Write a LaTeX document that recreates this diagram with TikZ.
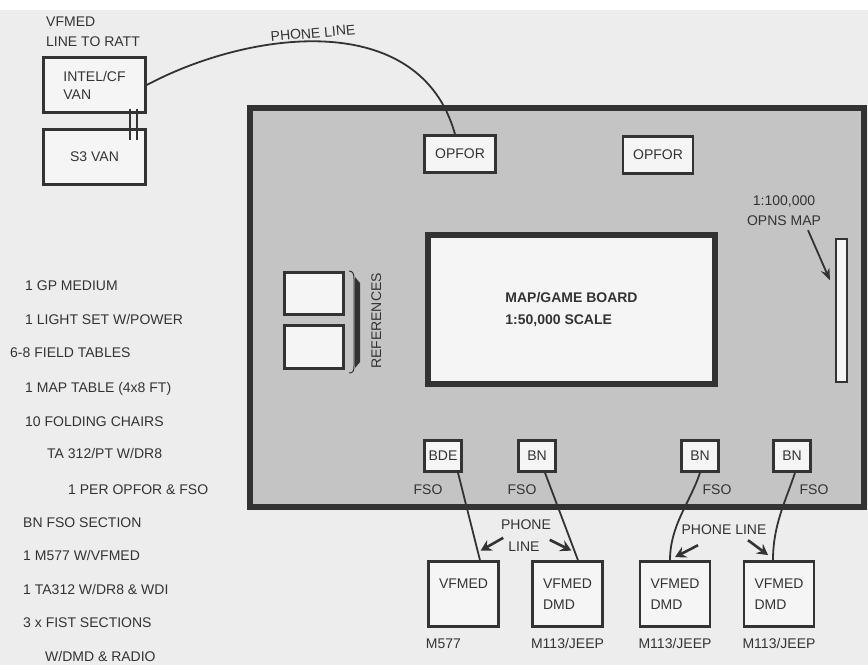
\documentclass[tikz,border=0pt]{standalone}
\usepackage{fontspec}
\setmainfont{Liberation Sans}
\usetikzlibrary{arrows.meta,positioning}
\definecolor{ink}{gray}{0.2}
\definecolor{room}{gray}{0.77}
\definecolor{paper}{gray}{0.96}
\definecolor{page}{gray}{0.93}
\tikzset{
  tag/.style={text=ink, inner sep=0pt, font=\fontsize{14}{18}\selectfont, text height=10pt, text depth=0pt},
  para/.style={text=ink, inner sep=0pt, font=\fontsize{14}{20}\selectfont, align=center},
  unit/.style={draw=ink, line width=2.5pt, fill=paper, text=ink, inner sep=0pt, font=\fontsize{14}{18}\selectfont, align=left},
  wire/.style={draw=ink, line width=1.8pt},
  feather/.style={draw=ink, line width=2.6pt, -{Stealth[length=11pt,width=12pt,inset=4pt]}},
}
\begin{document}
\begin{tikzpicture}[x=1pt,y=-1pt]
\useasboundingbox (0,0) rectangle (868,665);
\fill[page] (0,10) rectangle (868,665);

% vans
\node[para, align=left, anchor=west] (ratt) at (46,32) {VFMED\\LINE TO RATT};
\node[unit, minimum width=102pt, minimum height=55pt] (intel) at (94.5,85) {INTEL/CF\\VAN};
\node[unit, minimum width=102pt, minimum height=55pt] (s3) at (94.5,157) {S3 VAN};
\draw[ink, line width=1.5pt] ([xshift=35.5pt,yshift=5pt]intel.south) -- ([xshift=35.5pt,yshift=-12pt]s3.north);
\draw[ink, line width=1.5pt] ([xshift=42.5pt,yshift=5pt]intel.south) -- ([xshift=42.5pt,yshift=-12pt]s3.north);

% the room
\draw[ink, line width=6.5pt, fill=room] (250,108) rectangle (864,507);
\node[unit, minimum width=71pt, minimum height=37pt] (opforA) at (460,154) {OPFOR};
\node[unit, minimum width=70pt, minimum height=37pt] (opforB) at (658,155) {OPFOR};
\draw[wire] (intel.east) .. controls (250,30) and (420,8) .. ([xshift=-5pt]opforA.north);
\node[tag, rotate=5] (phoneT) at (313,33) {PHONE LINE};

\node[para] (opnsTxt) at (784,211) {1:100,000\\OPNS MAP};
\node[unit, line width=2pt, minimum width=11pt, minimum height=143pt] (opnsMap) at (841.5,310.5) {};
\draw[ink, line width=1.8pt, -{Stealth[length=12pt,width=9pt]}] ([xshift=24pt,yshift=-4pt]opnsTxt.south) -- ([xshift=-5pt,yshift=30pt]opnsMap.west);

\node[unit, line width=6.5pt, minimum width=287pt, minimum height=149pt] (board) at (571.5,309.5) {\bfseries MAP/GAME BOARD\\[4pt]\bfseries 1:50,000 SCALE};

% references
\node[unit, minimum width=59pt, minimum height=42pt] (refA) at (314,293.5) {};
\node[unit, minimum width=59pt, minimum height=43pt] (refB) at (314,347) {};
\draw[ink, line width=1pt] (349,271) .. controls (353,271) and (354,274) .. (354,279) -- (354,366) .. controls (354,371) and (353,373) .. (349,373);
\fill[ink] (355,277) -- (360,283) -- (360,362) -- (355,368) -- cycle;
\node[tag, rotate=90] (refTxt) at (376,321) {REFERENCES};

% fso posts
\foreach \nm/\x/\txt in {bde/443/BDE, bnA/537/BN, bnB/700/BN, bnC/792/BN}
  \node[unit, minimum width=37pt, minimum height=31pt] (\nm) at (\x,456) {\txt};
\foreach \x in {428,522,717,814}
  \node[tag] (fso\x) at (\x,489) {FSO};

% vfmed
\node[unit, minimum width=70pt, minimum height=65pt] (vfA) at (463.5,594) {VFMED\\[3pt]\phantom{DMD}};
\node[unit, minimum width=70pt, minimum height=65pt] (vfB) at (567.5,594) {VFMED\\[3pt]DMD};
\node[unit, minimum width=70pt, minimum height=65pt] (vfC) at (675,594) {VFMED\\[3pt]DMD};
\node[unit, minimum width=70pt, minimum height=65pt] (vfD) at (779,594) {VFMED\\[3pt]DMD};
\node[tag, below right=10.5pt and -1.5pt of vfA.south west] (vfAtag) {M577};
\foreach \nm in {vfB, vfC, vfD}
  \node[tag, below=10.5pt of \nm] (\nm tag) {M113/JEEP};

\draw[wire] ([xshift=15pt]bde.south) -- coordinate[pos=0.89] (tipA) ([xshift=16.5pt]vfA.north);
\draw[wire] ([xshift=8pt]bnA.south) -- coordinate[pos=0.89] (tipB) ([xshift=10.5pt]vfB.north);
\draw[wire] (bnB.south) .. controls +(-10,30) and +(0,-35) .. coordinate[pos=0.97] (tipC) ([xshift=-5pt]vfC.north);
\draw[wire] ([xshift=3pt]bnC.south) .. controls +(-10,30) and +(0,-35) .. coordinate[pos=0.95] (tipD) ([xshift=-6pt]vfD.north);

\node[tag] (phoneA) at (526,524) {PHONE};
\node[tag] (lineA) at (524,546) {LINE};
\node[tag] (phoneB) at (724,529) {PHONE LINE};
\draw[feather] ([xshift=-5pt,yshift=3pt]lineA.north west) -- ([xshift=3pt]tipA);
\draw[feather] ([xshift=10pt,yshift=1pt]lineA.north east) -- ([xshift=-3pt]tipB);
\draw[feather] ([xshift=-26pt,yshift=-11pt]phoneB.south) -- ([xshift=5pt]tipC);
\draw[feather] ([xshift=24pt,yshift=-6pt]phoneB.south) -- ([xshift=-5pt]tipD);

% equipment list
\foreach \x/\y/\txt [count=\i] in {25/285/{1 GP MEDIUM}, 25/319/{1 LIGHT SET W/POWER}, 10/352/{6-8 FIELD TABLES},
    25/387/{1 MAP TABLE (4x8 FT)}, 25/421/{10 FOLDING CHAIRS}, 47/453/{TA 312/PT W/DR8},
    68/489/{1 PER OPFOR \& FSO}, 23/522/{BN FSO SECTION}, 23/555/{1 M577 W/VFMED},
    23/589/{1 TA312 W/DR8 \& WDI}, 23/622/{3 x FIST SECTIONS}, 45/656/{W/DMD \& RADIO}}
  \node[tag, anchor=west] (item\i) at (\x,\y) {\txt};
\end{tikzpicture}
\end{document}
